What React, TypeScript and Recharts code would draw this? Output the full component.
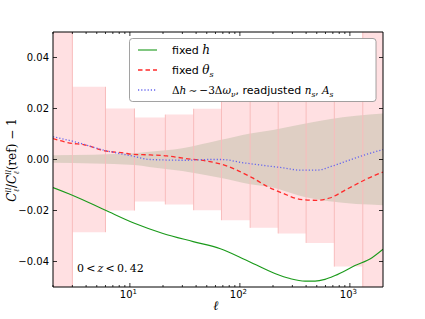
import { ComposedChart, Area, Line, XAxis, YAxis } from "recharts";

// pink error boxes: bin edges in ell and half-height of each box
const binEdges = [2, 3, 6, 11, 21, 38, 68, 124, 223, 400, 722, 1310, 2000];
const binErrors = [0.06, 0.0285, 0.02, 0.0165, 0.0176, 0.0199, 0.0238, 0.0268, 0.029, 0.0327, 0.042, 0.06];

// shaded band
const bandEll = [2, 11, 15, 30, 66, 124, 200, 337, 650, 2000];
const bandUpper = [0.0017, 0.0025, 0.003, 0.0044, 0.0076, 0.0102, 0.0116, 0.0135, 0.0158, 0.018];
const bandLower = [-0.0013, -0.0022, -0.0029, -0.0045, -0.0072, -0.0097, -0.011, -0.014, -0.0164, -0.0179];

// fixed h
const ellH = [2, 3, 6, 11, 20, 37.6, 66.5, 112, 208, 286, 391, 482, 594, 733, 1112, 1589, 2000];
const fixedH = [-0.011, -0.014, -0.0199, -0.025, -0.029, -0.0322, -0.035, -0.0393, -0.0447, -0.0467, -0.0477, -0.0477, -0.047, -0.0455, -0.0416, -0.0385, -0.0352];

// fixed theta_s
const ellTheta = [2, 3, 3.7, 5.9, 8.7, 10.7, 15.3, 21.7, 31.9, 51.8, 76.8, 90.7, 129, 176, 248, 351, 498, 656, 927, 1410, 2000];
const fixedTheta = [0.0082, 0.0063, 0.0059, 0.0034, 0.0026, 0.002, 0.0018, 0.0014, 0.0004, -0.0007, -0.0026, -0.0039, -0.0071, -0.0105, -0.0133, -0.0156, -0.016, -0.0151, -0.0118, -0.0077, -0.0049];

// readjusted n_s, A_s
const ellReadj = [2, 3, 5.9, 10.7, 15.3, 32, 52, 68, 108, 170, 250, 351, 498, 700, 980, 1410, 2000];
const readjusted = [0.0089, 0.0072, 0.0036, 0.0013, 0.0, -0.0003, 0.0, 0.0, -0.0013, -0.0024, -0.0033, -0.0042, -0.0042, -0.0025, -0.0003, 0.002, 0.0039];

const majorTicks = [10, 100, 1000];
const minorTicks = [2, 3, 4, 5, 6, 7, 8, 9, 20, 30, 40, 50, 60, 70, 80, 90, 200, 300, 400, 500, 600, 700, 800, 900];
const xTicks = [...minorTicks, ...majorTicks].sort((a, b) => a - b);
const yTicks = [-0.04, -0.02, 0, 0.02, 0.04];

const boxData = binEdges.map((e, i) => {
  const h = binErrors[Math.min(i, binErrors.length - 1)];
  return { l: e, r: [-h, h] };
});

const edgeData: { l: number; y: number | null }[] = [];
binEdges.forEach((e, i) => {
  if (i === 0 || i === binEdges.length - 1) return;
  const h = Math.max(binErrors[i - 1], binErrors[i]);
  edgeData.push({ l: e, y: -h }, { l: e, y: h }, { l: e, y: null });
});

const bandData = bandEll.map((l, i) => ({ l, r: [bandLower[i], bandUpper[i]] }));
const hData = ellH.map((l, i) => ({ l, v: fixedH[i] }));
const thetaData = ellTheta.map((l, i) => ({ l, v: fixedTheta[i] }));
const readjData = ellReadj.map((l, i) => ({ l, v: readjusted[i] }));

const sans = "'DejaVu Sans', sans-serif";
const serif = "'DejaVu Serif', serif";

const BottomTick = (props: any) => {
  const { x, y, payload } = props;
  const major = majorTicks.includes(payload.value);
  return (
    <g>
      <line x1={x} x2={x} y1={y} y2={y - (major ? 4 : 2)} stroke="#000" strokeWidth={0.8} />
      {major && (
        <text x={x - 1.5} y={y + 11} textAnchor="middle" fontFamily={sans} fontSize={10} fill="#000">
          10
          <tspan dy={-4} fontSize={7}>{Math.round(Math.log10(payload.value))}</tspan>
        </text>
      )}
    </g>
  );
};

const TopTick = (props: any) => {
  const { x, y, payload } = props;
  const major = majorTicks.includes(payload.value);
  return <line x1={x} x2={x} y1={y} y2={y + (major ? 4 : 2)} stroke="#000" strokeWidth={0.8} />;
};

const LeftTick = (props: any) => {
  const { x, y, payload } = props;
  return (
    <g>
      <line x1={x} x2={x + 4} y1={y} y2={y} stroke="#000" strokeWidth={0.8} />
      <text x={x - 4} y={y + 3.5} textAnchor="end" fontFamily={sans} fontSize={10} fill="#000">
        {payload.value.toFixed(2).replace("-", "\u2212")}
      </text>
    </g>
  );
};

const RightTick = (props: any) => {
  const { x, y } = props;
  return <line x1={x} x2={x - 4} y1={y} y2={y} stroke="#000" strokeWidth={0.8} />;
};

const axisLine = { stroke: "#000", strokeWidth: 1 };

export default function App() {
  return (
    <div style={{ position: "absolute", left: 0, top: 0, width: 425, height: 319, background: "#fff" }}>
      <ComposedChart width={425} height={319} margin={{ top: 0, right: 0, bottom: 0, left: 0 }}>
        <XAxis
          dataKey="l"
          type="number"
          scale="log"
          domain={[2, 2000]}
          allowDataOverflow
          ticks={xTicks}
          interval={0}
          height={32}
          tickSize={0}
          tickMargin={0}
          tickLine={false}
          axisLine={axisLine}
          tick={<BottomTick />}
        />
        <XAxis
          xAxisId="top"
          orientation="top"
          dataKey="l"
          type="number"
          scale="log"
          domain={[2, 2000]}
          allowDataOverflow
          ticks={xTicks}
          interval={0}
          height={32}
          tickSize={0}
          tickMargin={0}
          tickLine={false}
          axisLine={axisLine}
          tick={<TopTick />}
        />
        <YAxis
          type="number"
          domain={[-0.05, 0.05]}
          allowDataOverflow
          ticks={yTicks}
          interval={0}
          width={53}
          tickSize={0}
          tickMargin={0}
          tickLine={false}
          axisLine={axisLine}
          tick={<LeftTick />}
        />
        <YAxis
          yAxisId="right"
          orientation="right"
          type="number"
          domain={[-0.05, 0.05]}
          allowDataOverflow
          ticks={yTicks}
          interval={0}
          width={42}
          tickSize={0}
          tickMargin={0}
          tickLine={false}
          axisLine={axisLine}
          tick={<RightTick />}
        />
        <Area
          data={boxData}
          dataKey="r"
          type="stepAfter"
          fill="#ffe0e2"
          fillOpacity={1}
          stroke="none"
          isAnimationActive={false}
          dot={false}
          activeDot={false}
        />
        <Line
          data={edgeData}
          dataKey="y"
          type="linear"
          stroke="#f8bcbc"
          strokeWidth={1}
          connectNulls={false}
          dot={false}
          activeDot={false}
          isAnimationActive={false}
        />
        <Area
          data={bandData}
          dataKey="r"
          type="monotone"
          fill="#d3c7b9"
          fillOpacity={0.72}
          stroke="none"
          isAnimationActive={false}
          dot={false}
          activeDot={false}
        />
        <Line
          data={hData}
          dataKey="v"
          type="monotone"
          stroke="#1a9a1a"
          strokeWidth={1.1}
          dot={false}
          activeDot={false}
          isAnimationActive={false}
        />
        <Line
          data={thetaData}
          dataKey="v"
          type="monotone"
          stroke="#ff2a2a"
          strokeWidth={1.3}
          strokeDasharray="4.5 3"
          dot={false}
          activeDot={false}
          isAnimationActive={false}
        />
        <Line
          data={readjData}
          dataKey="v"
          type="monotone"
          stroke="#6464ee"
          strokeWidth={1.3}
          strokeDasharray="1.2 2"
          dot={false}
          activeDot={false}
          isAnimationActive={false}
        />
      </ComposedChart>
      <svg
        width={425}
        height={319}
        style={{ position: "absolute", left: 0, top: 0, pointerEvents: "none" }}
      >
        <rect x={129.5} y={38.5} width={246.5} height={63} rx={3} fill="#fff" stroke="#8a8a8a" strokeWidth={0.8} />
        <line x1={138} x2={157} y1={50} y2={50} stroke="#1a9a1a" strokeWidth={1.1} />
        <line x1={138} x2={157} y1={70} y2={70} stroke="#ff2a2a" strokeWidth={1.3} strokeDasharray="4.5 3" />
        <line x1={138} x2={157} y1={90} y2={90} stroke="#6464ee" strokeWidth={1.3} strokeDasharray="1.2 2" />
        <text x={172} y={54} fontFamily={sans} fontSize={11} fill="#000">
          fixed <tspan fontFamily={serif} fontStyle="italic" fontSize={12}>h</tspan>
        </text>
        <text x={172} y={74} fontFamily={sans} fontSize={11} fill="#000">
          fixed <tspan fontFamily={serif} fontStyle="italic" fontSize={12}>θ</tspan>
          <tspan fontFamily={serif} fontStyle="italic" fontSize={8} dy={2.5}>s</tspan>
        </text>
        <text x={172} y={94} fontFamily={sans} fontSize={11} fill="#000">
          <tspan fontFamily={serif} fontSize={10.5}>Δ</tspan>
          <tspan fontFamily={serif} fontStyle="italic" fontSize={10.5}>h</tspan>
          <tspan fontFamily={serif} fontSize={10.5}>{"\u2009∼\u2009−3Δ"}</tspan>
          <tspan fontFamily={serif} fontStyle="italic" fontSize={10.5}>ω</tspan>
          <tspan fontFamily={serif} fontStyle="italic" fontSize={7.5} dy={2.5}>ν</tspan>
          <tspan dy={-2.5}>, readjusted </tspan>
          <tspan fontFamily={serif} fontStyle="italic" fontSize={10.5}>n</tspan>
          <tspan fontFamily={serif} fontStyle="italic" fontSize={7.5} dy={2.5}>s</tspan>
          <tspan fontFamily={serif} fontSize={10.5} dy={-2.5}>, </tspan>
          <tspan fontFamily={serif} fontStyle="italic" fontSize={10.5}>A</tspan>
          <tspan fontFamily={serif} fontStyle="italic" fontSize={7.5} dy={2.5}>s</tspan>
        </text>
        <text x={77} y={272} fontFamily={serif} fontSize={11} fill="#000">
          {"0\u2009<\u2009"}
          <tspan fontStyle="italic">z</tspan>
          {"\u2009<\u20090.\u200942"}
        </text>
        <text x={216} y={310} textAnchor="middle" fontFamily={serif} fontStyle="italic" fontSize={13} fill="#000">
          ℓ
        </text>
        <text
          transform="translate(16,160) rotate(-90)"
          textAnchor="middle"
          fontFamily={serif}
          fontSize={12}
          fill="#000"
        >
          <tspan fontStyle="italic">C</tspan>
          <tspan fontStyle="italic" fontSize={7.5} dy={-5}>ll</tspan>
          <tspan fontStyle="italic" fontSize={7.5} dx={-4.5} dy={8}>ℓ</tspan>
          <tspan dx={1} dy={-3}>/</tspan>
          <tspan fontStyle="italic">C</tspan>
          <tspan fontStyle="italic" fontSize={7.5} dy={-5}>ll</tspan>
          <tspan fontStyle="italic" fontSize={7.5} dx={-4.5} dy={8}>ℓ</tspan>
          <tspan dx={1} dy={-3}>(ref) − 1</tspan>
        </text>
      </svg>
    </div>
  );
}
